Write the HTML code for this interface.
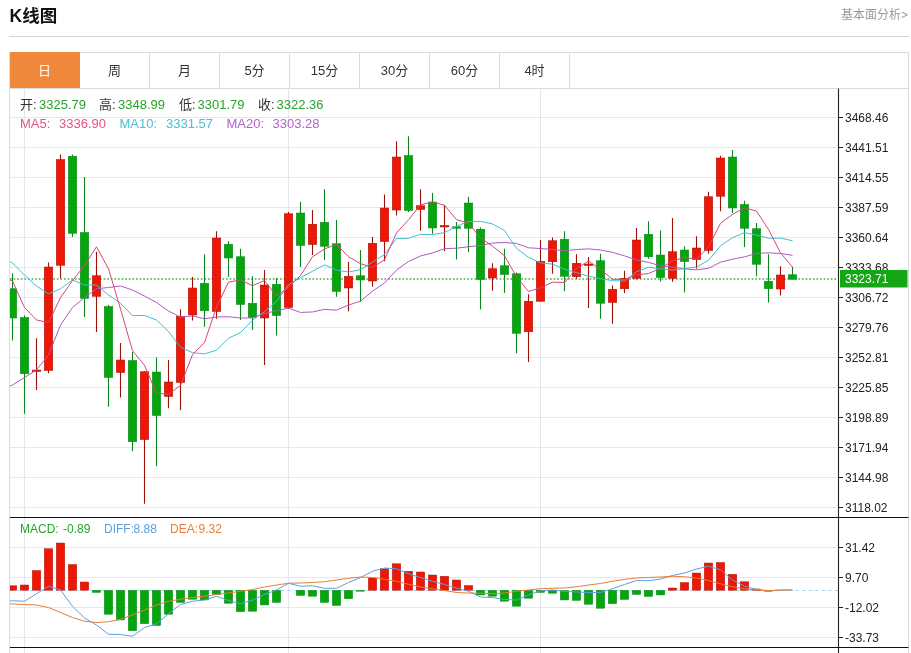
<!DOCTYPE html>
<html lang="zh-CN"><head><meta charset="utf-8"><title>K线图</title>
<style>
html,body{margin:0;padding:0;background:#fff}
body{width:911px;height:653px;position:relative;overflow:hidden;font-family:"Liberation Sans","Noto Sans CJK SC",sans-serif;color:#333}
.title{position:absolute;left:9.5px;top:4px;font-size:17.5px;font-weight:bold;color:#111;line-height:24px}
.more{position:absolute;right:3px;top:7px;font-size:12px;color:#999;line-height:16px}
.hr{position:absolute;left:9px;top:36px;width:900px;height:1px;background:#d4d4d4}
.box{position:absolute;left:9px;top:52px;width:898px;height:620px;border:1px solid #dcdcdc}
.tabs{position:absolute;left:10px;top:53px;width:898px;height:35px;border-bottom:1px solid #dcdcdc}
.tab{position:absolute;top:0;width:69px;height:35px;border-right:1px solid #dcdcdc;text-align:center;line-height:36px;font-size:13px;color:#333}
.tab.on{background:#f0883c;color:#fffdf5;border-right-color:#f0883c;border-radius:1px;font-size:13px;top:-1px;height:36px;line-height:38px}
.info{position:absolute;left:20px;font-size:13px;white-space:nowrap;line-height:16px}
.info span{position:absolute;top:0}
.g{color:#27a32b}
</style></head><body>
<div class="title">K线图</div>
<div class="more">基本面分析&gt;</div>
<div class="hr"></div>
<div class="box"></div>
<div class="tabs"><div class="tab on" style="left:0px">日</div><div class="tab" style="left:70px">周</div><div class="tab" style="left:140px">月</div><div class="tab" style="left:210px">5分</div><div class="tab" style="left:280px">15分</div><div class="tab" style="left:350px">30分</div><div class="tab" style="left:420px">60分</div><div class="tab" style="left:490px">4时</div></div>
<svg width="911" height="653" viewBox="0 0 911 653" style="position:absolute;left:0;top:0" font-family="Liberation Sans, sans-serif">
<defs><clipPath id="cp"><rect x="10" y="88" width="829" height="565"/></clipPath></defs>
<path d="M10 117.5H838M10 147.5H838M10 177.5H838M10 207.5H838M10 237.5H838M10 267.5H838M10 297.5H838M10 327.5H838M10 357.5H838M10 387.5H838M10 417.5H838M10 447.5H838M10 477.5H838M10 507.5H838M10 547.5H838M10 577.5H838M10 607.5H838M10 637.5H838" stroke="#e8e8eb" stroke-width="1" fill="none"/>
<path d="M24.5 88.5V653M288.5 88.5V653M540.5 88.5V653" stroke="#e3e6ec" stroke-width="1" fill="none"/>
<path d="M10 590.5H838" stroke="#aed6ee" stroke-width="1" stroke-dasharray="3.3 3.3" fill="none"/>
<path d="M10 279H838" stroke="#45b045" stroke-width="1.5" stroke-dasharray="1.7 1.9" fill="none"/>
<g clip-path="url(#cp)">
<path d="M12.5 273.25V340.5" stroke="#0d8424" stroke-width="1.1"/>
<rect x="8.25" y="288.75" width="8.5" height="29.25" fill="#06a50c" stroke="#0d8424" stroke-width="0.5"/>
<path d="M24.5 315.5V413.75" stroke="#0d8424" stroke-width="1.1"/>
<rect x="20.25" y="317.5" width="8.5" height="56.25" fill="#06a50c" stroke="#0d8424" stroke-width="0.5"/>
<path d="M36.5 338.25V390" stroke="#9c1208" stroke-width="1.1"/>
<rect x="32.25" y="370" width="8.5" height="1.50" fill="#ef1606" stroke="#9c1208" stroke-width="0.5"/>
<path d="M48.5 262.5V373.25" stroke="#9c1208" stroke-width="1.1"/>
<rect x="44.25" y="267" width="8.5" height="103.50" fill="#ef1606" stroke="#9c1208" stroke-width="0.5"/>
<path d="M60.5 154.5V278.5" stroke="#9c1208" stroke-width="1.1"/>
<rect x="56.25" y="159.5" width="8.5" height="105.75" fill="#ef1606" stroke="#9c1208" stroke-width="0.5"/>
<path d="M72.5 154.5V237" stroke="#0d8424" stroke-width="1.1"/>
<rect x="68.25" y="156.25" width="8.5" height="77.00" fill="#06a50c" stroke="#0d8424" stroke-width="0.5"/>
<path d="M84.5 177V317" stroke="#0d8424" stroke-width="1.1"/>
<rect x="80.25" y="232.5" width="8.5" height="65.75" fill="#06a50c" stroke="#0d8424" stroke-width="0.5"/>
<path d="M96.5 251.75V332" stroke="#9c1208" stroke-width="1.1"/>
<rect x="92.25" y="275.75" width="8.5" height="20.50" fill="#ef1606" stroke="#9c1208" stroke-width="0.5"/>
<path d="M108.5 305V406.75" stroke="#0d8424" stroke-width="1.1"/>
<rect x="104.25" y="306.5" width="8.5" height="71.00" fill="#06a50c" stroke="#0d8424" stroke-width="0.5"/>
<path d="M120.5 343V397.5" stroke="#9c1208" stroke-width="1.1"/>
<rect x="116.25" y="360" width="8.5" height="12.50" fill="#ef1606" stroke="#9c1208" stroke-width="0.5"/>
<path d="M132.5 352V451.25" stroke="#0d8424" stroke-width="1.1"/>
<rect x="128.25" y="360.5" width="8.5" height="81.25" fill="#06a50c" stroke="#0d8424" stroke-width="0.5"/>
<path d="M144.5 371V503.75" stroke="#9c1208" stroke-width="1.1"/>
<rect x="140.25" y="371.75" width="8.5" height="67.75" fill="#ef1606" stroke="#9c1208" stroke-width="0.5"/>
<path d="M156.5 357.5V466.25" stroke="#0d8424" stroke-width="1.1"/>
<rect x="152.25" y="372" width="8.5" height="43.50" fill="#06a50c" stroke="#0d8424" stroke-width="0.5"/>
<path d="M168.5 360V408.25" stroke="#9c1208" stroke-width="1.1"/>
<rect x="164.25" y="382" width="8.5" height="14.50" fill="#ef1606" stroke="#9c1208" stroke-width="0.5"/>
<path d="M180.5 309.25V410" stroke="#9c1208" stroke-width="1.1"/>
<rect x="176.25" y="316.25" width="8.5" height="66.25" fill="#ef1606" stroke="#9c1208" stroke-width="0.5"/>
<path d="M192.5 277V320.5" stroke="#9c1208" stroke-width="1.1"/>
<rect x="188.25" y="288" width="8.5" height="27.00" fill="#ef1606" stroke="#9c1208" stroke-width="0.5"/>
<path d="M204.5 254.25V326.75" stroke="#0d8424" stroke-width="1.1"/>
<rect x="200.25" y="283.25" width="8.5" height="27.50" fill="#06a50c" stroke="#0d8424" stroke-width="0.5"/>
<path d="M216.5 231.25V318.75" stroke="#9c1208" stroke-width="1.1"/>
<rect x="212.25" y="238" width="8.5" height="73.50" fill="#ef1606" stroke="#9c1208" stroke-width="0.5"/>
<path d="M228.5 241.25V277" stroke="#0d8424" stroke-width="1.1"/>
<rect x="224.25" y="244.25" width="8.5" height="13.75" fill="#06a50c" stroke="#0d8424" stroke-width="0.5"/>
<path d="M240.5 248.75V320" stroke="#0d8424" stroke-width="1.1"/>
<rect x="236.25" y="256.75" width="8.5" height="47.75" fill="#06a50c" stroke="#0d8424" stroke-width="0.5"/>
<path d="M252.5 276.25V330" stroke="#0d8424" stroke-width="1.1"/>
<rect x="248.25" y="303.25" width="8.5" height="14.25" fill="#06a50c" stroke="#0d8424" stroke-width="0.5"/>
<path d="M264.5 270V365" stroke="#9c1208" stroke-width="1.1"/>
<rect x="260.25" y="285" width="8.5" height="33.00" fill="#ef1606" stroke="#9c1208" stroke-width="0.5"/>
<path d="M276.5 278V335.5" stroke="#0d8424" stroke-width="1.1"/>
<rect x="272.25" y="284.25" width="8.5" height="31.25" fill="#06a50c" stroke="#0d8424" stroke-width="0.5"/>
<path d="M288.5 212V308.75" stroke="#9c1208" stroke-width="1.1"/>
<rect x="284.25" y="213.75" width="8.5" height="93.75" fill="#ef1606" stroke="#9c1208" stroke-width="0.5"/>
<path d="M300.5 201.75V267" stroke="#0d8424" stroke-width="1.1"/>
<rect x="296.25" y="213" width="8.5" height="32.50" fill="#06a50c" stroke="#0d8424" stroke-width="0.5"/>
<path d="M312.5 210V255" stroke="#9c1208" stroke-width="1.1"/>
<rect x="308.25" y="224.25" width="8.5" height="20.25" fill="#ef1606" stroke="#9c1208" stroke-width="0.5"/>
<path d="M324.5 189.25V260" stroke="#0d8424" stroke-width="1.1"/>
<rect x="320.25" y="222.25" width="8.5" height="24.00" fill="#06a50c" stroke="#0d8424" stroke-width="0.5"/>
<path d="M336.5 220V296.75" stroke="#0d8424" stroke-width="1.1"/>
<rect x="332.25" y="243.75" width="8.5" height="47.75" fill="#06a50c" stroke="#0d8424" stroke-width="0.5"/>
<path d="M348.5 262V311.25" stroke="#9c1208" stroke-width="1.1"/>
<rect x="344.25" y="276.25" width="8.5" height="11.75" fill="#ef1606" stroke="#9c1208" stroke-width="0.5"/>
<path d="M360.5 250V302" stroke="#0d8424" stroke-width="1.1"/>
<rect x="356.25" y="275.75" width="8.5" height="4.25" fill="#06a50c" stroke="#0d8424" stroke-width="0.5"/>
<path d="M372.5 237V286.75" stroke="#9c1208" stroke-width="1.1"/>
<rect x="368.25" y="243.25" width="8.5" height="37.75" fill="#ef1606" stroke="#9c1208" stroke-width="0.5"/>
<path d="M384.5 194.5V261.25" stroke="#9c1208" stroke-width="1.1"/>
<rect x="380.25" y="208" width="8.5" height="33.50" fill="#ef1606" stroke="#9c1208" stroke-width="0.5"/>
<path d="M396.5 141.25V215.5" stroke="#9c1208" stroke-width="1.1"/>
<rect x="392.25" y="157" width="8.5" height="53.00" fill="#ef1606" stroke="#9c1208" stroke-width="0.5"/>
<path d="M408.5 136.25V212" stroke="#0d8424" stroke-width="1.1"/>
<rect x="404.25" y="155.5" width="8.5" height="55.00" fill="#06a50c" stroke="#0d8424" stroke-width="0.5"/>
<path d="M420.5 189.25V230.75" stroke="#9c1208" stroke-width="1.1"/>
<rect x="416.25" y="205.75" width="8.5" height="3.75" fill="#ef1606" stroke="#9c1208" stroke-width="0.5"/>
<path d="M432.5 193V233.75" stroke="#0d8424" stroke-width="1.1"/>
<rect x="428.25" y="202" width="8.5" height="26.00" fill="#06a50c" stroke="#0d8424" stroke-width="0.5"/>
<path d="M444.5 205V251.25" stroke="#9c1208" stroke-width="1.1"/>
<rect x="440.25" y="225.5" width="8.5" height="1.50" fill="#ef1606" stroke="#9c1208" stroke-width="0.5"/>
<path d="M456.5 222V259.5" stroke="#0d8424" stroke-width="1.1"/>
<rect x="452.25" y="226.75" width="8.5" height="1.50" fill="#06a50c" stroke="#0d8424" stroke-width="0.5"/>
<path d="M468.5 196.75V252" stroke="#0d8424" stroke-width="1.1"/>
<rect x="464.25" y="203" width="8.5" height="25.25" fill="#06a50c" stroke="#0d8424" stroke-width="0.5"/>
<path d="M480.5 227.5V309.5" stroke="#0d8424" stroke-width="1.1"/>
<rect x="476.25" y="229.25" width="8.5" height="50.25" fill="#06a50c" stroke="#0d8424" stroke-width="0.5"/>
<path d="M492.5 263.25V290.75" stroke="#9c1208" stroke-width="1.1"/>
<rect x="488.25" y="268.75" width="8.5" height="9.25" fill="#ef1606" stroke="#9c1208" stroke-width="0.5"/>
<path d="M504.5 248.75V293" stroke="#0d8424" stroke-width="1.1"/>
<rect x="500.25" y="265.75" width="8.5" height="8.75" fill="#06a50c" stroke="#0d8424" stroke-width="0.5"/>
<path d="M516.5 272.5V353.25" stroke="#0d8424" stroke-width="1.1"/>
<rect x="512.25" y="273.75" width="8.5" height="59.50" fill="#06a50c" stroke="#0d8424" stroke-width="0.5"/>
<path d="M528.5 294.25V362" stroke="#9c1208" stroke-width="1.1"/>
<rect x="524.25" y="301.25" width="8.5" height="30.50" fill="#ef1606" stroke="#9c1208" stroke-width="0.5"/>
<path d="M540.5 240V301.25" stroke="#9c1208" stroke-width="1.1"/>
<rect x="536.25" y="261.25" width="8.5" height="40.00" fill="#ef1606" stroke="#9c1208" stroke-width="0.5"/>
<path d="M552.5 237.5V273.75" stroke="#9c1208" stroke-width="1.1"/>
<rect x="548.25" y="240.75" width="8.5" height="21.00" fill="#ef1606" stroke="#9c1208" stroke-width="0.5"/>
<path d="M564.5 231.25V291.25" stroke="#0d8424" stroke-width="1.1"/>
<rect x="560.25" y="239.25" width="8.5" height="37.00" fill="#06a50c" stroke="#0d8424" stroke-width="0.5"/>
<path d="M576.5 254.25V278.75" stroke="#9c1208" stroke-width="1.1"/>
<rect x="572.25" y="263.25" width="8.5" height="13.50" fill="#ef1606" stroke="#9c1208" stroke-width="0.5"/>
<path d="M588.5 257V308" stroke="#9c1208" stroke-width="1.1"/>
<rect x="584.25" y="264" width="8.5" height="1.50" fill="#ef1606" stroke="#9c1208" stroke-width="0.5"/>
<path d="M600.5 253.75V318.75" stroke="#0d8424" stroke-width="1.1"/>
<rect x="596.25" y="260.75" width="8.5" height="42.50" fill="#06a50c" stroke="#0d8424" stroke-width="0.5"/>
<path d="M612.5 285.5V323.75" stroke="#9c1208" stroke-width="1.1"/>
<rect x="608.25" y="289.25" width="8.5" height="13.25" fill="#ef1606" stroke="#9c1208" stroke-width="0.5"/>
<path d="M624.5 270.75V293" stroke="#9c1208" stroke-width="1.1"/>
<rect x="620.25" y="278.25" width="8.5" height="10.50" fill="#ef1606" stroke="#9c1208" stroke-width="0.5"/>
<path d="M636.5 228V279.5" stroke="#9c1208" stroke-width="1.1"/>
<rect x="632.25" y="240" width="8.5" height="38.25" fill="#ef1606" stroke="#9c1208" stroke-width="0.5"/>
<path d="M648.5 221.25V258.75" stroke="#0d8424" stroke-width="1.1"/>
<rect x="644.25" y="234.25" width="8.5" height="22.50" fill="#06a50c" stroke="#0d8424" stroke-width="0.5"/>
<path d="M660.5 230.5V281.5" stroke="#0d8424" stroke-width="1.1"/>
<rect x="656.25" y="255" width="8.5" height="22.50" fill="#06a50c" stroke="#0d8424" stroke-width="0.5"/>
<path d="M672.5 218V281.75" stroke="#9c1208" stroke-width="1.1"/>
<rect x="668.25" y="251.75" width="8.5" height="26.50" fill="#ef1606" stroke="#9c1208" stroke-width="0.5"/>
<path d="M684.5 246.25V292.5" stroke="#0d8424" stroke-width="1.1"/>
<rect x="680.25" y="250" width="8.5" height="11.50" fill="#06a50c" stroke="#0d8424" stroke-width="0.5"/>
<path d="M696.5 236.25V268.75" stroke="#9c1208" stroke-width="1.1"/>
<rect x="692.25" y="248" width="8.5" height="11.50" fill="#ef1606" stroke="#9c1208" stroke-width="0.5"/>
<path d="M708.5 191.75V253.75" stroke="#9c1208" stroke-width="1.1"/>
<rect x="704.25" y="196.75" width="8.5" height="53.75" fill="#ef1606" stroke="#9c1208" stroke-width="0.5"/>
<path d="M720.5 155.75V211.25" stroke="#9c1208" stroke-width="1.1"/>
<rect x="716.25" y="158" width="8.5" height="38.25" fill="#ef1606" stroke="#9c1208" stroke-width="0.5"/>
<path d="M732.5 150V213" stroke="#0d8424" stroke-width="1.1"/>
<rect x="728.25" y="157" width="8.5" height="51.00" fill="#06a50c" stroke="#0d8424" stroke-width="0.5"/>
<path d="M744.5 200.75V247" stroke="#0d8424" stroke-width="1.1"/>
<rect x="740.25" y="204.5" width="8.5" height="23.75" fill="#06a50c" stroke="#0d8424" stroke-width="0.5"/>
<path d="M756.5 223V276.25" stroke="#0d8424" stroke-width="1.1"/>
<rect x="752.25" y="228.75" width="8.5" height="35.50" fill="#06a50c" stroke="#0d8424" stroke-width="0.5"/>
<path d="M768.5 254.25V302.5" stroke="#0d8424" stroke-width="1.1"/>
<rect x="764.25" y="281.25" width="8.5" height="7.50" fill="#06a50c" stroke="#0d8424" stroke-width="0.5"/>
<path d="M780.5 266.25V295.5" stroke="#9c1208" stroke-width="1.1"/>
<rect x="776.25" y="275" width="8.5" height="14.00" fill="#ef1606" stroke="#9c1208" stroke-width="0.5"/>
<path d="M792.5 267V279.25" stroke="#0d8424" stroke-width="1.1"/>
<rect x="788.25" y="274.75" width="8.5" height="4.50" fill="#06a50c" stroke="#0d8424" stroke-width="0.5"/>
<path d="M10.0 386.00 L12.5 385.00 L24.5 377.50 L36.5 370.00 L48.5 355.00 L60.5 325.00 L72.5 307.50 L84.5 297.50 L96.5 288.75 L108.5 287.50 L120.5 286.00 L132.5 290.00 L144.5 296.00 L156.5 302.50 L168.5 311.00 L180.5 317.00 L192.5 316.00 L204.5 318.75 L216.5 317.00 L228.5 316.75 L240.5 317.98 L252.5 317.95 L264.5 313.51 L276.5 310.79 L288.5 308.12 L300.5 312.43 L312.5 311.98 L324.5 309.38 L336.5 310.16 L348.5 305.10 L360.5 301.10 L372.5 291.18 L384.5 282.99 L396.5 270.06 L408.5 261.49 L420.5 255.96 L432.5 252.96 L444.5 248.70 L456.5 248.21 L468.5 246.72 L480.5 245.47 L492.5 243.04 L504.5 242.51 L516.5 243.40 L528.5 247.78 L540.5 248.56 L552.5 249.39 L564.5 250.89 L576.5 249.47 L588.5 248.86 L600.5 250.03 L612.5 252.32 L624.5 255.84 L636.5 259.99 L648.5 262.30 L660.5 265.89 L672.5 267.07 L684.5 268.88 L696.5 269.86 L708.5 268.29 L720.5 262.21 L732.5 259.18 L744.5 256.86 L756.5 253.41 L768.5 252.79 L780.5 253.47 L792.5 255.40" stroke="#b05ac4" stroke-width="1" fill="none" stroke-linejoin="round"/>
<path d="M10.0 261.75 L12.5 263.00 L24.5 275.00 L36.5 286.00 L48.5 293.75 L60.5 288.75 L72.5 280.00 L84.5 285.00 L96.5 285.00 L108.5 295.00 L120.5 303.30 L132.5 315.68 L144.5 315.48 L156.5 320.02 L168.5 331.52 L180.5 347.20 L192.5 352.68 L204.5 353.93 L216.5 350.15 L228.5 338.20 L240.5 332.65 L252.5 320.23 L264.5 311.55 L276.5 301.55 L288.5 284.73 L300.5 277.65 L312.5 271.27 L324.5 264.82 L336.5 270.18 L348.5 272.00 L360.5 269.55 L372.5 262.12 L384.5 254.43 L396.5 238.57 L408.5 238.25 L420.5 234.28 L432.5 234.65 L444.5 232.57 L456.5 226.25 L468.5 221.45 L480.5 221.40 L492.5 223.95 L504.5 230.60 L516.5 248.22 L528.5 257.30 L540.5 262.85 L552.5 264.12 L564.5 269.20 L576.5 272.70 L588.5 276.27 L600.5 278.65 L612.5 280.70 L624.5 281.07 L636.5 271.75 L648.5 267.30 L660.5 268.93 L672.5 270.02 L684.5 268.55 L696.5 267.02 L708.5 260.30 L720.5 245.78 L732.5 237.65 L744.5 232.65 L756.5 235.07 L768.5 238.28 L780.5 238.03 L792.5 240.78" stroke="#45bcd2" stroke-width="1" fill="none" stroke-linejoin="round"/>
<path d="M10.0 280.00 L12.5 281.00 L24.5 307.50 L36.5 320.00 L48.5 322.50 L60.5 297.65 L72.5 280.70 L84.5 265.60 L96.5 246.75 L108.5 268.85 L120.5 308.95 L132.5 350.65 L144.5 365.35 L156.5 393.30 L168.5 394.20 L180.5 385.45 L192.5 354.70 L204.5 342.50 L216.5 307.00 L228.5 282.20 L240.5 279.85 L252.5 285.75 L264.5 280.60 L276.5 296.10 L288.5 287.25 L300.5 275.45 L312.5 256.80 L324.5 249.05 L336.5 244.25 L348.5 256.75 L360.5 263.65 L372.5 267.45 L384.5 259.80 L396.5 232.90 L408.5 219.75 L420.5 204.90 L432.5 201.85 L444.5 205.35 L456.5 219.60 L468.5 223.15 L480.5 237.90 L492.5 246.05 L504.5 255.85 L516.5 276.85 L528.5 291.45 L540.5 287.80 L552.5 282.20 L564.5 282.55 L576.5 268.55 L588.5 261.10 L600.5 269.50 L612.5 279.20 L624.5 279.60 L636.5 274.95 L648.5 273.50 L660.5 268.35 L672.5 260.85 L684.5 257.50 L696.5 259.10 L708.5 247.10 L720.5 223.20 L732.5 214.45 L744.5 207.80 L756.5 211.05 L768.5 229.45 L780.5 252.85 L792.5 267.10" stroke="#d8457a" stroke-width="1" fill="none" stroke-linejoin="round"/>
<rect x="8.25" y="585.75" width="8.5" height="4.50" fill="#ef1606" stroke="#9c1208" stroke-width="0.4"/>
<rect x="20.25" y="585" width="8.5" height="5.25" fill="#ef1606" stroke="#9c1208" stroke-width="0.4"/>
<rect x="32.25" y="570.5" width="8.5" height="19.75" fill="#ef1606" stroke="#9c1208" stroke-width="0.4"/>
<rect x="44.25" y="548.75" width="8.5" height="41.50" fill="#ef1606" stroke="#9c1208" stroke-width="0.4"/>
<rect x="56.25" y="543" width="8.5" height="47.25" fill="#ef1606" stroke="#9c1208" stroke-width="0.4"/>
<rect x="68.25" y="564.5" width="8.5" height="25.75" fill="#ef1606" stroke="#9c1208" stroke-width="0.4"/>
<rect x="80.25" y="582" width="8.5" height="8.25" fill="#ef1606" stroke="#9c1208" stroke-width="0.4"/>
<rect x="92.25" y="590.25" width="8.5" height="2.25" fill="#06a50c" stroke="#0d8424" stroke-width="0.4"/>
<rect x="104.25" y="590.25" width="8.5" height="24.00" fill="#06a50c" stroke="#0d8424" stroke-width="0.4"/>
<rect x="116.25" y="590.25" width="8.5" height="29.75" fill="#06a50c" stroke="#0d8424" stroke-width="0.4"/>
<rect x="128.25" y="590.25" width="8.5" height="40.50" fill="#06a50c" stroke="#0d8424" stroke-width="0.4"/>
<rect x="140.25" y="590.25" width="8.5" height="33.50" fill="#06a50c" stroke="#0d8424" stroke-width="0.4"/>
<rect x="152.25" y="590.25" width="8.5" height="35.25" fill="#06a50c" stroke="#0d8424" stroke-width="0.4"/>
<rect x="164.25" y="590.25" width="8.5" height="24.00" fill="#06a50c" stroke="#0d8424" stroke-width="0.4"/>
<rect x="176.25" y="590.25" width="8.5" height="12.25" fill="#06a50c" stroke="#0d8424" stroke-width="0.4"/>
<rect x="188.25" y="590.25" width="8.5" height="9.00" fill="#06a50c" stroke="#0d8424" stroke-width="0.4"/>
<rect x="200.25" y="590.25" width="8.5" height="9.75" fill="#06a50c" stroke="#0d8424" stroke-width="0.4"/>
<rect x="212.25" y="590.25" width="8.5" height="4.25" fill="#06a50c" stroke="#0d8424" stroke-width="0.4"/>
<rect x="224.25" y="590.25" width="8.5" height="13.00" fill="#06a50c" stroke="#0d8424" stroke-width="0.4"/>
<rect x="236.25" y="590.25" width="8.5" height="21.50" fill="#06a50c" stroke="#0d8424" stroke-width="0.4"/>
<rect x="248.25" y="590.25" width="8.5" height="21.00" fill="#06a50c" stroke="#0d8424" stroke-width="0.4"/>
<rect x="260.25" y="590.25" width="8.5" height="14.75" fill="#06a50c" stroke="#0d8424" stroke-width="0.4"/>
<rect x="272.25" y="590.25" width="8.5" height="12.25" fill="#06a50c" stroke="#0d8424" stroke-width="0.4"/>
<rect x="296.25" y="590.25" width="8.5" height="5.25" fill="#06a50c" stroke="#0d8424" stroke-width="0.4"/>
<rect x="308.25" y="590.25" width="8.5" height="6.00" fill="#06a50c" stroke="#0d8424" stroke-width="0.4"/>
<rect x="320.25" y="590.25" width="8.5" height="12.25" fill="#06a50c" stroke="#0d8424" stroke-width="0.4"/>
<rect x="332.25" y="590.25" width="8.5" height="15.25" fill="#06a50c" stroke="#0d8424" stroke-width="0.4"/>
<rect x="344.25" y="590.25" width="8.5" height="8.50" fill="#06a50c" stroke="#0d8424" stroke-width="0.4"/>
<rect x="356.25" y="590.25" width="8.5" height="1.00" fill="#06a50c" stroke="#0d8424" stroke-width="0.4"/>
<rect x="368.25" y="578" width="8.5" height="12.25" fill="#ef1606" stroke="#9c1208" stroke-width="0.4"/>
<rect x="380.25" y="568.75" width="8.5" height="21.50" fill="#ef1606" stroke="#9c1208" stroke-width="0.4"/>
<rect x="392.25" y="563.75" width="8.5" height="26.50" fill="#ef1606" stroke="#9c1208" stroke-width="0.4"/>
<rect x="404.25" y="571.25" width="8.5" height="19.00" fill="#ef1606" stroke="#9c1208" stroke-width="0.4"/>
<rect x="416.25" y="572" width="8.5" height="18.25" fill="#ef1606" stroke="#9c1208" stroke-width="0.4"/>
<rect x="428.25" y="575" width="8.5" height="15.25" fill="#ef1606" stroke="#9c1208" stroke-width="0.4"/>
<rect x="440.25" y="576.25" width="8.5" height="14.00" fill="#ef1606" stroke="#9c1208" stroke-width="0.4"/>
<rect x="452.25" y="580" width="8.5" height="10.25" fill="#ef1606" stroke="#9c1208" stroke-width="0.4"/>
<rect x="464.25" y="585.5" width="8.5" height="4.75" fill="#ef1606" stroke="#9c1208" stroke-width="0.4"/>
<rect x="476.25" y="590.25" width="8.5" height="4.75" fill="#06a50c" stroke="#0d8424" stroke-width="0.4"/>
<rect x="488.25" y="590.25" width="8.5" height="6.00" fill="#06a50c" stroke="#0d8424" stroke-width="0.4"/>
<rect x="500.25" y="590.25" width="8.5" height="11.00" fill="#06a50c" stroke="#0d8424" stroke-width="0.4"/>
<rect x="512.25" y="590.25" width="8.5" height="16.00" fill="#06a50c" stroke="#0d8424" stroke-width="0.4"/>
<rect x="524.25" y="590.25" width="8.5" height="8.00" fill="#06a50c" stroke="#0d8424" stroke-width="0.4"/>
<rect x="536.25" y="590.25" width="8.5" height="2.25" fill="#06a50c" stroke="#0d8424" stroke-width="0.4"/>
<rect x="548.25" y="590.25" width="8.5" height="3.00" fill="#06a50c" stroke="#0d8424" stroke-width="0.4"/>
<rect x="560.25" y="590.25" width="8.5" height="9.75" fill="#06a50c" stroke="#0d8424" stroke-width="0.4"/>
<rect x="572.25" y="590.25" width="8.5" height="10.25" fill="#06a50c" stroke="#0d8424" stroke-width="0.4"/>
<rect x="584.25" y="590.25" width="8.5" height="14.00" fill="#06a50c" stroke="#0d8424" stroke-width="0.4"/>
<rect x="596.25" y="590.25" width="8.5" height="18.00" fill="#06a50c" stroke="#0d8424" stroke-width="0.4"/>
<rect x="608.25" y="590.25" width="8.5" height="13.50" fill="#06a50c" stroke="#0d8424" stroke-width="0.4"/>
<rect x="620.25" y="590.25" width="8.5" height="9.25" fill="#06a50c" stroke="#0d8424" stroke-width="0.4"/>
<rect x="632.25" y="590.25" width="8.5" height="4.25" fill="#06a50c" stroke="#0d8424" stroke-width="0.4"/>
<rect x="644.25" y="590.25" width="8.5" height="6.25" fill="#06a50c" stroke="#0d8424" stroke-width="0.4"/>
<rect x="656.25" y="590.25" width="8.5" height="4.75" fill="#06a50c" stroke="#0d8424" stroke-width="0.4"/>
<rect x="668.25" y="588" width="8.5" height="2.25" fill="#ef1606" stroke="#9c1208" stroke-width="0.4"/>
<rect x="680.25" y="582.5" width="8.5" height="7.75" fill="#ef1606" stroke="#9c1208" stroke-width="0.4"/>
<rect x="692.25" y="573" width="8.5" height="17.25" fill="#ef1606" stroke="#9c1208" stroke-width="0.4"/>
<rect x="704.25" y="563" width="8.5" height="27.25" fill="#ef1606" stroke="#9c1208" stroke-width="0.4"/>
<rect x="716.25" y="562.5" width="8.5" height="27.75" fill="#ef1606" stroke="#9c1208" stroke-width="0.4"/>
<rect x="728.25" y="574.25" width="8.5" height="16.00" fill="#ef1606" stroke="#9c1208" stroke-width="0.4"/>
<rect x="740.25" y="581.75" width="8.5" height="8.50" fill="#ef1606" stroke="#9c1208" stroke-width="0.4"/>
<rect x="752.25" y="589" width="8.5" height="1.25" fill="#ef1606" stroke="#9c1208" stroke-width="0.4"/>
<rect x="764.25" y="590.25" width="8.5" height="1.00" fill="#06a50c" stroke="#0d8424" stroke-width="0.4"/>
<path d="M10.0 600.75 L12.5 600.80 L24.5 601.25 L36.5 593.75 L48.5 586.25 L60.5 590.00 L72.5 606.25 L84.5 618.00 L96.5 625.00 L108.5 634.25 L120.5 634.50 L132.5 636.25 L144.5 627.50 L156.5 623.75 L168.5 613.75 L180.5 604.50 L192.5 601.25 L204.5 600.00 L216.5 596.25 L228.5 600.50 L240.5 603.75 L252.5 600.00 L264.5 594.50 L276.5 590.00 L288.5 583.25 L300.5 586.25 L312.5 585.75 L324.5 588.25 L336.5 588.25 L348.5 582.50 L360.5 577.50 L372.5 571.25 L384.5 568.00 L396.5 568.75 L408.5 573.75 L420.5 577.50 L432.5 581.25 L444.5 584.50 L456.5 588.00 L468.5 591.25 L480.5 597.00 L492.5 597.50 L504.5 599.50 L516.5 600.00 L528.5 595.00 L540.5 590.75 L552.5 590.00 L564.5 591.25 L576.5 592.00 L588.5 592.50 L600.5 592.50 L612.5 588.75 L624.5 584.50 L636.5 580.50 L648.5 580.75 L660.5 579.00 L672.5 575.50 L684.5 573.00 L696.5 569.00 L708.5 566.25 L720.5 569.75 L732.5 580.00 L744.5 586.25 L756.5 589.40 L768.5 590.75 L780.5 590.00 L792.5 590.00" stroke="#5b9fe0" stroke-width="1" fill="none" stroke-linejoin="round"/>
<path d="M10.0 603.75 L12.5 603.90 L24.5 604.50 L36.5 605.00 L48.5 607.50 L60.5 612.50 L72.5 617.50 L84.5 621.25 L96.5 622.50 L108.5 621.75 L120.5 619.25 L132.5 615.00 L144.5 610.00 L156.5 605.00 L168.5 601.25 L180.5 599.25 L192.5 597.50 L204.5 596.25 L216.5 594.50 L228.5 593.00 L240.5 591.25 L252.5 589.50 L264.5 587.00 L276.5 585.00 L288.5 583.25 L300.5 583.00 L312.5 582.50 L324.5 581.75 L336.5 580.00 L348.5 578.25 L360.5 577.00 L372.5 577.50 L384.5 579.25 L396.5 581.25 L408.5 584.25 L420.5 587.00 L432.5 588.75 L444.5 590.50 L456.5 592.50 L468.5 593.00 L480.5 593.25 L492.5 593.75 L504.5 593.00 L516.5 591.25 L528.5 590.00 L540.5 588.75 L552.5 588.25 L564.5 588.00 L576.5 586.75 L588.5 585.00 L600.5 583.50 L612.5 581.25 L624.5 579.40 L636.5 578.00 L648.5 577.50 L660.5 577.00 L672.5 576.25 L684.5 576.75 L696.5 578.00 L708.5 580.60 L720.5 583.75 L732.5 586.75 L744.5 588.75 L756.5 590.00 L768.5 590.75 L780.5 590.00 L792.5 590.00" stroke="#ea7d33" stroke-width="1" fill="none" stroke-linejoin="round"/>
</g>
<path d="M10 517.5H908.5M10 647.5H908.5" stroke="#111" stroke-width="1.2" fill="none"/>
<path d="M838.5 88.5V653" stroke="#222" stroke-width="1.1" fill="none"/>
<path d="M839 117.5H843M839 147.5H843M839 177.5H843M839 207.5H843M839 237.5H843M839 267.5H843M839 297.5H843M839 327.5H843M839 357.5H843M839 387.5H843M839 417.5H843M839 447.5H843M839 477.5H843M839 507.5H843M839 547.5H843M839 577.5H843M839 607.5H843M839 637.5H843" stroke="#222" stroke-width="1" fill="none"/>
<g font-size="12" fill="#222">
<text x="845" y="121.5">3468.46</text>
<text x="845" y="151.5">3441.51</text>
<text x="845" y="181.5">3414.55</text>
<text x="845" y="211.5">3387.59</text>
<text x="845" y="241.5">3360.64</text>
<text x="845" y="271.5">3333.68</text>
<text x="845" y="301.5">3306.72</text>
<text x="845" y="331.5">3279.76</text>
<text x="845" y="361.5">3252.81</text>
<text x="845" y="391.5">3225.85</text>
<text x="845" y="421.5">3198.89</text>
<text x="845" y="451.5">3171.94</text>
<text x="845" y="481.5">3144.98</text>
<text x="845" y="511.5">3118.02</text>
<text x="845" y="551.5">31.42</text>
<text x="845" y="581.5">9.70</text>
<text x="845" y="611.5">-12.02</text>
<text x="845" y="641.5">-33.73</text>
</g>
<rect x="840" y="270" width="67.5" height="17.5" fill="#13a713"/>
<text x="845" y="283" font-size="12" fill="#fff">3323.71</text>
<g font-size="12">
<text x="20" y="533" fill="#25a52b">MACD:</text><text x="63" y="533" fill="#25a52b">-0.89</text>
<text x="104" y="533" fill="#5b9fe0">DIFF:</text><text x="133.5" y="533" fill="#5b9fe0">8.88</text>
<text x="170" y="533" fill="#ea7d33">DEA:</text><text x="198.5" y="533" fill="#ea7d33">9.32</text>
</g>
</svg>
<div class="info" style="top:97px;left:0">
<span style="left:20px">开:</span><span class="g" style="left:39px">3325.79</span>
<span style="left:99px">高:</span><span class="g" style="left:118px">3348.99</span>
<span style="left:179px">低:</span><span class="g" style="left:197.5px">3301.79</span>
<span style="left:258px">收:</span><span class="g" style="left:276.5px">3322.36</span>
</div>
<div class="info" style="top:116px;left:0">
<span style="left:20px;color:#e2558a">MA5:</span><span style="left:59px;color:#e2558a">3336.90</span>
<span style="left:119.5px;color:#45c3d6">MA10:</span><span style="left:166px;color:#45c3d6">3331.57</span>
<span style="left:226.5px;color:#b45fcc">MA20:</span><span style="left:272.5px;color:#b45fcc">3303.28</span>
</div>
</body></html>
